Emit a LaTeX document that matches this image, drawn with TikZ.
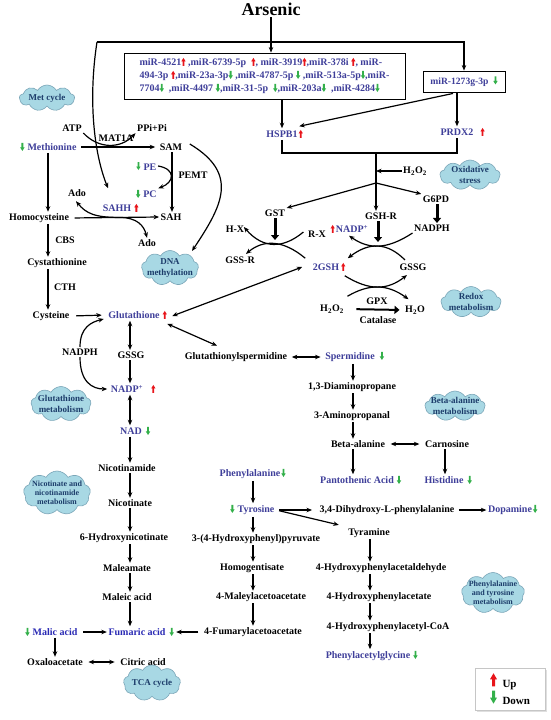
\documentclass[tikz,border=0pt]{standalone}
\usepackage{fontspec}
\setmainfont{Liberation Serif}
\usetikzlibrary{arrows.meta,shapes.symbols,calc,shadows}
\definecolor{mblue}{HTML}{3F3F9A}
\definecolor{fblue}{HTML}{2A2AB4}
\definecolor{upred}{HTML}{E8151B}
\definecolor{dngreen}{HTML}{33B04A}
\definecolor{cloudfill}{HTML}{A8D8E4}
\definecolor{cloudedge}{HTML}{7BA6B8}
\definecolor{cloudtext}{HTML}{1D3D6B}
\newcommand\upa{\tikz[baseline=0pt,x=1pt,y=1pt]\fill[upred] (-0.9,0)--(0.9,0)--(0.9,4.5)--(2.2,4.5)--(0,8)--(-2.2,4.5)--(-0.9,4.5)--cycle;}
\newcommand\dna{\tikz[baseline=0pt,x=1pt,y=1pt]\fill[dngreen] (-0.9,8)--(0.9,8)--(0.9,3.5)--(2.2,3.5)--(0,0)--(-2.2,3.5)--(-0.9,3.5)--cycle;}
\newcommand\bigup{\tikz[baseline=-1pt,x=1pt,y=1pt]\fill[upred] (-1.5,0)--(1.5,0)--(1.5,7)--(3.5,7)--(0,13)--(-3.5,7)--(-1.5,7)--cycle;}
\newcommand\bigdn{\tikz[baseline=-1pt,x=1pt,y=1pt]\fill[dngreen] (-1.5,13)--(1.5,13)--(1.5,6)--(3.5,6)--(0,0)--(-3.5,6)--(-1.5,6)--cycle;}
\newcommand\ru[1][2pt]{\rlap{\hspace{#1}\upa}}
\newcommand\rd[1][2pt]{\rlap{\hspace{#1}\dna}}
\newcommand\lu[1][2pt]{\llap{\upa\hspace{#1}}}
\newcommand\ld[1][3pt]{\llap{\dna\hspace{#1}}}
\begin{document}
\begin{tikzpicture}[x=1pt,y=-1pt,
  lab/.style={font=\bfseries\fontsize{10}{12}\selectfont, inner sep=1.5pt, text=black},
  mb/.style={lab,text=mblue},
  fb/.style={lab,text=fblue},
  cld/.style={cloud, cloud puffs=9, cloud puff arc=120, cloud ignores aspect, draw=cloudedge, fill=cloudfill, line width=0.6pt, inner sep=0pt},
  ctx/.style={font=\bfseries\fontsize{9}{11}\selectfont, text=cloudtext, align=center, inner sep=0pt},
  stx/.style={font=\bfseries\fontsize{8}{9}\selectfont, text=cloudtext, align=center, inner sep=0pt},
  arr/.style={-{Stealth[length=5.5pt,width=4.5pt]}, line width=1.2pt},
  darr/.style={{Stealth[length=5.5pt,width=4.5pt]}-{Stealth[length=5.5pt,width=4.5pt]}, line width=1.2pt},
  tarr/.style={-{Triangle[length=5pt,width=8pt]}, line width=3pt},
]
\fill[white] (0,0) rectangle (550,720);
\useasboundingbox (0,0) rectangle (550,720);

% column coordinates
\coordinate (colA) at (48,0);
\coordinate (colN) at (130,0);
\coordinate (colS) at (172,0);
\coordinate (colG) at (437,0);
\coordinate (colP) at (353,0);
\coordinate (colC) at (445,0);
\coordinate (colT) at (253,0);
\coordinate (colY) at (370,0);
\coordinate (tl) at (97,42);
\coordinate (brk) at (376,153);
\coordinate (split) at (376,183);
\coordinate (xl) at (273,244);
\coordinate (xr) at (378,246);
\coordinate (xg) at (378,287);

% ---------- top ----------
\node[lab, font=\bfseries\fontsize{18}{20}\selectfont] (ars) at (271,9) {Arsenic};
\node[draw, line width=0.9pt, minimum width=281pt, minimum height=46pt, inner sep=0pt, align=left, text=mblue, font=\bfseries\fontsize{10}{13}\selectfont] (mirbox) at (264.5,76)
 {miR-4521\upa\ ,miR-6739-5p\ \ \upa, miR-3919\upa,miR-378i \upa, miR-\\
  494-3p \upa,miR-23a-3p\dna\ ,miR-4787-5p \dna\ ,miR-513a-5p\dna,miR-\\
  7704\dna\ \ ,miR-4497 \dna,miR-31-5p \ \dna,miR-203a\dna\ \ ,miR-4284\dna};
\node[draw, line width=0.9pt, minimum width=82pt, minimum height=21pt, inner sep=0pt, text=mblue, font=\bfseries\fontsize{9.6}{11}\selectfont] (mir1273) at (464,81.5) {miR-1273g-3p\ \ \dna};

\node[mb] (hspb1) at (282,134) {HSPB1\ru[1pt]};
\node[mb] (prdx2) at (457,132) {PRDX2\ru[7pt]};
\node[lab] (h2o2a) at (415,171) {H\textsubscript{2}O\textsubscript{2}};
\node[lab] (gst) at (275,213) {GST};
\node[lab] (gshr) at (381,216) {GSH-R};
\node[lab] (g6pd) at (436,199) {G6PD};
\node[lab] (nadph1) at (432,228) {NADPH};
\node[mb] (nadp1) at (352,229) {\lu[1pt]NADP\textsuperscript{+}};
\node[lab] (rx) at (317,234) {R-X};
\node[lab] (hx) at (235,229) {H-X};
\node[lab] (gssr) at (240,260) {GSS-R};
\node[mb] (gsh2) at (326,267) {2GSH\ru[2pt]};
\node[lab] (gssg1) at (413,267) {GSSG};
\node[lab] (h2o2b) at (332,309) {H\textsubscript{2}O\textsubscript{2}};
\node[lab] (h2o) at (415,310) {H\textsubscript{2}O};
\node[lab] (gpx) at (377,301) {GPX};
\node[lab] (catal) at (378,320) {Catalase};

% ---------- left ----------
\node[lab] (atp) at (72,128) {ATP};
\node[lab] (ppi) at (152,128) {PPi+Pi};
\node[lab] (mat1a) at (116,138) {MAT1A};
\node[mb] (met) at (52,147) {\ld[3pt]Methionine};
\node[lab] (sam) at (171,147) {SAM};
\node[mb] (pe) at (150,166) {\ld[3pt]PE};
\node[lab] (pemt) at (193,175) {PEMT};
\node[mb] (pc) at (150,194) {\ld[3pt]PC};
\node[lab] (ado1) at (77,193) {Ado};
\node[mb] (sahh) at (117,208) {SAHH\ru[3pt]};
\node[lab] (sah) at (171,217) {SAH};
\node[lab] (homocys) at (39,218) {Homocysteine};
\node[lab] (ado2) at (147,243) {Ado};
\node[lab] (cbs) at (65,240) {CBS};
\node[lab] (cysta) at (57,263) {Cystathionine};
\node[lab] (cth) at (65,287) {CTH};
\node[lab] (cys) at (51,316) {Cysteine};
\node[mb] (glut) at (134,315) {Glutathione\ru[3pt]};
\node[lab] (nadph2) at (80,352) {NADPH};
\node[lab] (gssg2) at (131,355) {GSSG};
\node[lab] (glsp) at (236,357) {Glutathionylspermidine};
\node[mb] (spd) at (350,357) {Spermidine\rd[5pt]};
\node[mb] (nadp2) at (127,389) {NADP\textsuperscript{+}\ru[8pt]};
\node[mb] (nad) at (131,431) {NAD\rd[4pt]};
\node[lab] (nicam) at (127,468) {Nicotinamide};
\node[lab] (nicot) at (130,503) {Nicotinate};
\node[lab] (hnic) at (124,538) {6-Hydroxynicotinate};
\node[lab] (maleam) at (127,568) {Maleamate};
\node[lab] (maleic) at (127,597) {Maleic acid};
\node[fb] (malic) at (55,632) {\ld[3pt]Malic acid};
\node[fb] (fum) at (137,632) {Fumaric acid\rd[4pt]};
\node[lab] (oxal) at (55,662) {Oxaloacetate};
\node[lab] (citric) at (143,662) {Citric acid};

% ---------- middle / right ----------
\node[lab] (diam) at (352,387) {1,3-Diaminopropane};
\node[lab] (amprop) at (352,416) {3-Aminopropanal};
\node[lab] (bala) at (358,444) {Beta-alanine};
\node[lab] (carn) at (447,444) {Carnosine};
\node[mb] (panto) at (357,480) {Pantothenic Acid\rd[3pt]};
\node[mb] (his) at (444,480) {Histidine\rd[4pt]};
\node[mb] (phe) at (250,474) {Phenylalanine\rd[1pt]};
\node[mb] (tyr) at (256,510) {\ld[3pt]Tyrosine};
\node[lab] (dopa) at (387,510) {3,4-Dihydroxy-L-phenylalanine};
\node[mb] (dopam) at (510,510) {Dopamine\rd[1pt]};
\node[lab] (tyram) at (369,533) {Tyramine};
\node[lab] (hpp) at (256,539) {3-(4-Hydroxyphenyl)pyruvate};
\node[lab] (homog) at (252,568) {Homogentisate};
\node[lab] (hpald) at (381,568) {4-Hydroxyphenylacetaldehyde};
\node[lab] (mala) at (261,597) {4-Maleylacetoacetate};
\node[lab] (hpac) at (379,597) {4-Hydroxyphenylacetate};
\node[lab] (fuma) at (253,632) {4-Fumarylacetoacetate};
\node[lab] (hpcoa) at (388,627) {4-Hydroxyphenylacetyl-CoA};
\node[mb] (pag) at (368,656) {Phenylacetylglycine\rd[3pt]};

% ---------- clouds ----------
\node[cld, minimum width=55pt, minimum height=26pt, label={[ctx]center:Met cycle}] (metc) at (47,98) {};
\node[cld, minimum width=60pt, minimum height=30pt, label={[ctx]center:Oxidative\\stress}] (oxs) at (470,175) {};
\node[cld, minimum width=60pt, minimum height=31pt, label={[ctx]center:Redox\\metabolism}] (redox) at (471,302) {};
\node[cld, minimum width=60pt, minimum height=30pt, label={[ctx]center:Beta-alanine\\metabolism}] (bcl) at (455,406) {};
\node[cld, minimum width=63pt, minimum height=41pt, label={[stx]center:Phenylalanine\\and tyrosine\\metabolism}] (ptcl) at (493,593) {};
\node[cld, minimum width=57pt, minimum height=35pt, label={[ctx]center:DNA\\methylation}] (dnameth) at (170,268) {};
\node[cld, minimum width=60pt, minimum height=35pt, label={[ctx]center:Glutathione\\metabolism}] (gmcl) at (61,404) {};
\node[cld, minimum width=67pt, minimum height=44pt, label={[stx]center:Nicotinate and\\nicotinamide\\metabolism}] (nncl) at (57,493) {};
\node[cld, minimum width=57pt, minimum height=36pt, label={[ctx]center:TCA cycle}] (tca) at (152,683) {};

% ---------- legend ----------
\node[draw=gray!45, line width=0.6pt, fill=white, drop shadow={shadow xshift=1.5pt, shadow yshift=-1.5pt, opacity=0.25}, minimum width=70pt, minimum height=42pt, align=left, font=\bfseries\fontsize{11}{16}\selectfont, inner sep=0pt] (legend) at (510,689) {\bigup\ \ Up\\\bigdn\ \ Down};

% ---------- connectors: top ----------
\draw[arr] (ars.south) -- (ars.south |- mirbox.north);
\draw[arr] (tl) -- (mir1273.north |- tl) -- (mir1273.north);
\draw[arr] (tl) .. controls +(-9,58) and +(-14,-35) .. ($(sahh.north)+(-9,-14)$);
\draw[arr] (mirbox.south -| hspb1.north) -- (hspb1.north);
\draw[arr] ($(mir1273.south)+(-11,1)$) -- ($(hspb1.north east)+(0,-2)$);
\draw[arr] (prdx2.north |- mir1273.south) -- (prdx2.north);
\draw[line width=1.2pt] (hspb1.south) |- (brk) -| (prdx2.south);
\draw[arr] (brk) -- (brk |- gshr.north);
\draw[arr] (split) -- (gst.north east);
\draw[arr] (split) -- (g6pd.north west);
\draw[arr] (h2o2a.west) -- (h2o2a.west -| brk);
\draw[tarr, shorten >=4pt] (gst.south) -- (gst.south |- xl);
\draw[tarr, shorten >=4pt] (xr |- gshr.south) -- (xr);
\draw[tarr] (g6pd.south -| colG) -- (nadph1.north -| colG);
% GST crossing
\draw[arr] ($(rx.west)+(-3,-2)$) .. controls ($(xl)+(10,5)$) and ($(xl)+(-10,5)$) .. ($(hx.east)+(-2,-2)$);
\draw[arr] ($(gsh2.north west)+(-6,-3)$) .. controls ($(xl)+(10,-4.5)$) and ($(xl)+(-10,-4.5)$) .. ($(gssr.north)+(6,-1)$);
% GSH-R crossing
\draw[arr] (nadph1.south west) .. controls ($(xr)+(9,3.7)$) and ($(xr)+(-9,3.7)$) .. ($(nadp1.south)+(-3,1)$);
\draw[arr] ($(gssg1.north west)+(7,-2)$) .. controls ($(xr)+(9,-4)$) and ($(xr)+(-9,-4)$) .. ($(gsh2.north east)+(7,-3)$);
% GPX crossing
\draw[arr] ($(gsh2.south east)+(4,3)$) .. controls ($(xg)+(-9,3.7)$) and ($(xg)+(9,3.7)$) .. ($(gssg1.south west)+(9,3)$);
\draw[arr] ($(h2o2b.north east)+(2,-7)$) .. controls ($(xg)+(-9,-3.3)$) and ($(xg)+(9,-3.3)$) .. ($(h2o.north west)+(5,-5)$);
\draw[tarr, line width=2pt, shorten <=11pt, shorten >=4pt] (h2o2b.east) -- (h2o.west);

% ---------- connectors: left ----------
\draw[arr, shorten <=3pt, shorten >=3pt] (met.east) -- (sam.west);
\draw[arr] (atp.south east) .. controls +(15,16) and +(-15,16) .. (ppi.south west);
\draw[arr] (sam.south -| colS) -- (sah.north -| colS);
\draw[arr] (pe.east) .. controls +(18,3) and +(16,-6) .. (pc.north east);
\draw[arr, shorten <=4pt] (homocys.east) -- (sah.west);
\coordinate (hj) at ($(homocys.east)!0.55!(sah.west)$);
\draw[arr] (hj) .. controls +(-25,0) and +(10,12) .. ($(ado1.south)+(-1,3)$);
\draw[arr] (hj) .. controls +(18,0) and +(-3,-12) .. (ado2.north);
\draw[arr] ($(sam.east)+(6,-3)$) .. controls +(50,30) and +(30,-45) .. ($(dnameth.center)+(22,-17)$);
\draw[arr] (met.south -| colA) -- (homocys.north -| colA);
\draw[arr] (homocys.south -| colA) -- (cysta.north -| colA);
\draw[arr] (cysta.south -| colA) -- (cys.north -| colA);
\draw[arr, shorten <=5pt, shorten >=5pt] (cys.east) -- (glut.west);
\draw[darr] ($(glut.east)+(11,1)$) -- ($(gsh2.west)+(-9,0)$);
\draw[darr] ($(glut.south east)+(6,3)$) -- ($(glsp.north)+(-19,-5)$);
\draw[darr] (glut.south -| colN) -- (gssg2.north -| colN);
\draw[arr] (gssg2.south -| colN) -- (nadp2.north -| colN);
\draw[arr] (nadph2.north) .. controls +(0,-20) and +(-12,3) .. ($(glut.west)+(-3,4)$);
\draw[arr] (nadph2.south) .. controls +(0,25) and +(-15,0) .. ($(nadp2.west)+(-2,0)$);
\draw[darr] (nadp2.south -| colN) -- (nad.north -| colN);
\draw[arr] (nad.south -| colN) -- (nicam.north -| colN);
\draw[arr] (nicam.south -| colN) -- (nicot.north -| colN);
\draw[arr] (nicot.south -| colN) -- (hnic.north -| colN);
\draw[arr] (hnic.south -| colN) -- (maleam.north -| colN);
\draw[arr] (maleam.south -| colN) -- (maleic.north -| colN);
\draw[arr] (maleic.south -| colN) -- (fum.north -| colN);
\draw[arr, shorten <=4pt] (malic.east) -- (fum.west);
\draw[arr, shorten <=4pt] (fuma.west) -- ($(fum.east)+(9,0)$);
\draw[arr] (malic.south) -- (oxal.north);
\draw[darr, shorten <=4pt, shorten >=4pt] (oxal.east) -- (citric.west);

% ---------- connectors: middle / right ----------
\draw[darr, shorten <=3pt, shorten >=3pt] (glsp.east) -- (spd.west);
\draw[arr] (spd.south -| colP) -- (diam.north -| colP);
\draw[arr] (diam.south -| colP) -- (amprop.north -| colP);
\draw[arr] (amprop.south -| colP) -- (bala.north -| colP);
\draw[darr, shorten <=4pt, shorten >=4pt] (bala.east) -- (carn.west);
\draw[arr] (bala.south -| colP) -- (panto.north -| colP);
\draw[arr] (carn.south -| colC) -- (his.north -| colC);
\draw[arr] (phe.south -| colT) -- (tyr.north -| colT);
\draw[arr, shorten <=3pt, shorten >=6pt] (tyr.east) -- (dopa.west);
\draw[arr, shorten <=3pt] (dopa.east) -- (dopam.west);
\draw[arr, shorten <=3pt, shorten >=8pt] (tyr.east) -- (tyram.north west);
\draw[arr] (tyr.south -| colT) -- (hpp.north -| colT);
\draw[arr] (hpp.south -| colT) -- (homog.north -| colT);
\draw[arr] (homog.south -| colT) -- (mala.north -| colT);
\draw[arr] (mala.south -| colT) -- (fuma.north -| colT);
\draw[arr] (tyram.south -| colY) -- (hpald.north -| colY);
\draw[arr] (hpald.south -| colY) -- (hpac.north -| colY);
\draw[arr] (hpac.south -| colY) -- (hpcoa.north -| colY);
\draw[arr] (hpcoa.south -| colY) -- (pag.north -| colY);
\end{tikzpicture}
\end{document}
